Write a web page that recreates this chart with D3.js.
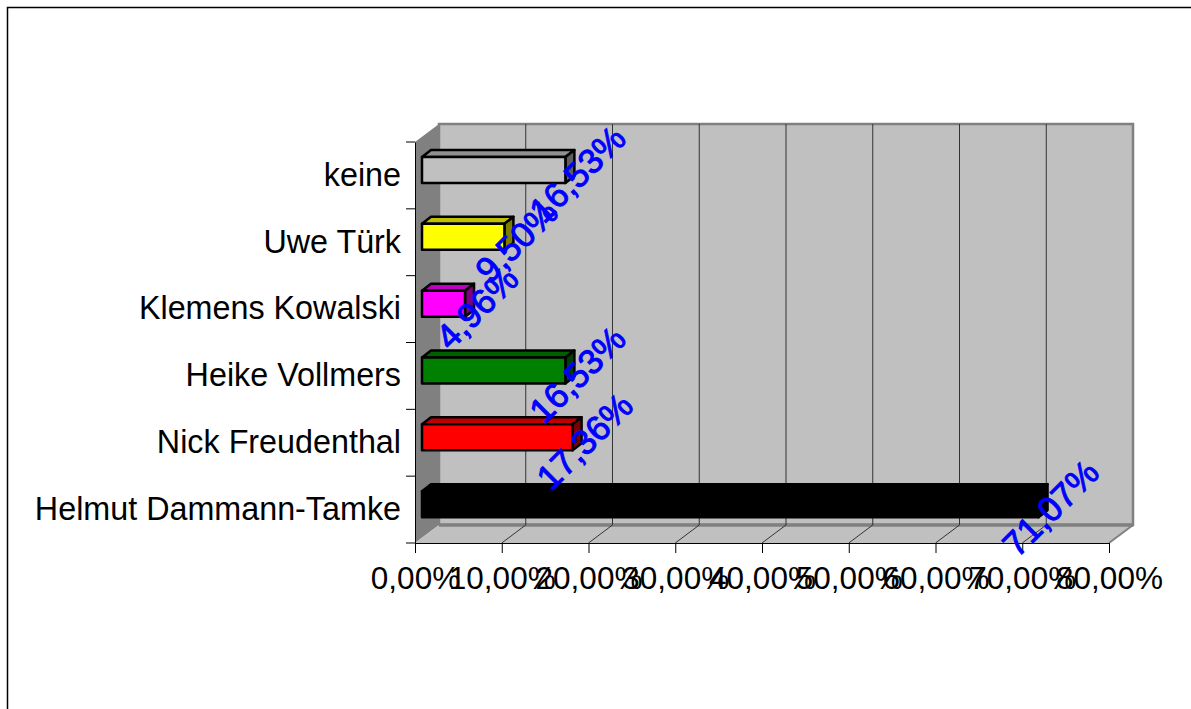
<!DOCTYPE html>
<html lang="de">
<head>
    <meta charset="UTF-8">
    <title>Helmut Dammann-Tamke</title>
    <script src="https://d3js.org/d3.v7.min.js"></script>
    <style>
        html, body { margin: 0; padding: 0; background: #fff; overflow: hidden; }
        svg { display: block; }
        text { font-family: "Liberation Sans", Arial, sans-serif; }
    </style>
</head>
<body>
    <svg width="1191" height="709"></svg>

    <script>
    var categories = ["keine", "Uwe Türk", "Klemens Kowalski", "Heike Vollmers", "Nick Freudenthal", "Helmut Dammann-Tamke"]
    var values = [16.53, 9.50, 4.96, 16.53, 17.36, 71.07]
    var valueLabels = ["16,53%", "9,50%", "4,96%", "16,53%", "17,36%", "71,07%"]
    var xTicks = [0, 10, 20, 30, 40, 50, 60, 70, 80]
    var xTickLabels = ["0,00%", "10,00%", "20,00%", "30,00%", "40,00%", "50,00%", "60,00%", "70,00%", "80,00%"]
    var barColors = ["#c0c0c0", "#ffff00", "#ff00ff", "#008000", "#ff0000", "#000000"]

    var dx = 24, dy = -18          // depth of the chart box
    var barDx = 9, barDy = -7      // depth of a bar
    var barOffset = 7, barTop = 15, barHeight = 26

    var xscale = d3.scaleLinear().domain([0, 80]).range([415, 1109])
    var yscale = d3.scaleBand().domain(categories).range([142, 543])
    var color = d3.scaleOrdinal().domain(categories).range(barColors)
    var x0 = xscale.range()[0], x1 = xscale.range()[1]
    var y0 = yscale.range()[0], y1 = yscale.range()[1]

    var svg = d3.select("svg")
    var pts = p => p.map(a => a.join(",")).join(" ")

    // outer frame, runs off the page on the right and bottom
    svg.append("rect").attr("x", 7.5).attr("y", 7.5).attr("width", 1300).attr("height", 900)
        .attr("fill", "#fff").attr("stroke", "#000").attr("stroke-width", 1.5)

    // back wall, side wall, floor
    svg.append("rect").attr("x", x0 + dx).attr("y", y0 + dy).attr("width", x1 - x0).attr("height", y1 - y0)
        .attr("fill", "#c0c0c0").attr("stroke", "#808080").attr("stroke-width", 2.5)
    svg.append("polygon")
        .attr("points", pts([[x0, y0], [x0 + dx, y0 + dy], [x0 + dx, y1 + dy], [x0, y1]]))
        .attr("fill", "#808080")
    svg.append("polygon")
        .attr("points", pts([[x0, y1], [x0 + dx, y1 + dy], [x1 + dx, y1 + dy], [x1, y1]]))
        .attr("fill", "#c0c0c0")
    svg.append("line").attr("x1", x0 + dx).attr("y1", y1 + dy).attr("x2", x1 + dx).attr("y2", y1 + dy)
        .attr("stroke", "#808080").attr("stroke-width", 3.5)
    svg.append("line").attr("x1", x1).attr("y1", y1).attr("x2", x1 + dx).attr("y2", y1 + dy)
        .attr("stroke", "#808080").attr("stroke-width", 2)

    // gridlines on the wall and floor
    var grid = xTicks.slice(1, -1)
    svg.selectAll(".grid").data(grid).enter().append("polyline")
        .attr("class", "grid")
        .attr("points", d => pts([[xscale(d), y1], [xscale(d) + dx, y1 + dy], [xscale(d) + dx, y0 + dy]]))
        .attr("fill", "none").attr("stroke", "#333").attr("stroke-width", 1)

    // axes
    var xaxis = d3.axisBottom(xscale).tickValues(xTicks).tickSize(10).tickPadding(14)
        .tickFormat((d, i) => xTickLabels[i])
    var gx = svg.append("g").attr("transform", "translate(0," + y1 + ")").call(xaxis)
    gx.selectAll("text").attr("font-size", 31.5).attr("fill", "#000")
    gx.attr("font-family", null)

    var yaxis = d3.axisLeft(yscale).tickSize(0).tickPadding(14)
    var gy = svg.append("g").attr("transform", "translate(" + x0 + ",0)").call(yaxis)
    gy.selectAll("text").attr("font-size", 32.3).attr("fill", "#000")
    gy.attr("font-family", null)
    var edges = categories.map(c => yscale(c)).concat([y1])
    svg.selectAll(".ytick").data(edges).enter().append("line")
        .attr("class", "ytick")
        .attr("x1", x0 - 9).attr("x2", x0).attr("y1", d => d).attr("y2", d => d)
        .attr("stroke", "#000").attr("stroke-width", 1)

    // bars: front, top and side faces
    var rows = categories.map((c, i) => ({ name: c, value: values[i], label: valueLabels[i] }))
    var barLeft = d => x0 + barOffset
    var barRight = d => xscale(d.value) + barOffset
    var barY = d => yscale(d.name) + barTop

    var bars = svg.selectAll(".bar").data(rows).enter().append("g").attr("class", "bar")
        .attr("stroke", "#000").attr("stroke-width", 2.5).attr("stroke-linejoin", "round")
    bars.append("polygon")
        .attr("points", d => pts([[barLeft(d), barY(d)], [barLeft(d) + barDx, barY(d) + barDy], [barRight(d) + barDx, barY(d) + barDy], [barRight(d), barY(d)]]))
        .attr("fill", d => d3.color(color(d.name)).darker(0.8))
    bars.append("polygon")
        .attr("points", d => pts([[barRight(d), barY(d)], [barRight(d) + barDx, barY(d) + barDy], [barRight(d) + barDx, barY(d) + barDy + barHeight], [barRight(d), barY(d) + barHeight]]))
        .attr("fill", d => d3.color(color(d.name)).darker(2))
    bars.append("rect")
        .attr("x", barLeft).attr("y", barY)
        .attr("width", d => barRight(d) - barLeft(d)).attr("height", barHeight)
        .attr("fill", d => color(d.name))

    // value labels
    svg.selectAll(".value").data(rows).enter().append("text")
        .attr("class", "value")
        .attr("transform", d => "translate(" + (barRight(d) + 12) + "," + (barY(d) + barHeight / 2 + 4) + ") rotate(-45)")
        .attr("text-anchor", "middle").attr("dy", "0.35em")
        .attr("font-size", 35).attr("fill", "#0000ff")
        .attr("stroke", "#0000ff").attr("stroke-width", 1)
        .text(d => d.label)
    </script>
</body>
</html>
